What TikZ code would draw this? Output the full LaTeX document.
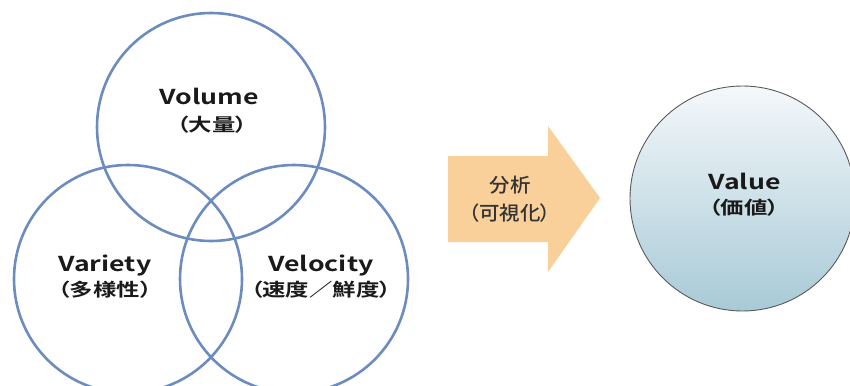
\documentclass[tikz,border=0pt]{standalone}
\usepackage{fontspec}
\usepackage{graphicx}
\setmainfont{Noto Sans CJK JP}
\newfontfamily\latb{Noto Sans CJK JP Bold}
\newfontfamily\jpb{Noto Sans CJK JP Bold}[RawFeature=+palt]
\newfontfamily\jpm{Noto Sans CJK JP Medium}[RawFeature=+palt]
\definecolor{ringblue}{HTML}{6C8CBF}
\definecolor{arroworange}{HTML}{F9CF9A}
\definecolor{valtop}{HTML}{F4F8FA}
\definecolor{valbot}{HTML}{A8CAD7}
\definecolor{txt}{HTML}{1A1A1A}
\definecolor{arrtxt}{HTML}{333333}
\newcommand{\hs}[1]{\scalebox{1.3}[1]{#1}}
\newcommand{\hsa}[1]{\scalebox{1.05}[1]{#1}}
\tikzset{
  ring/.style={circle, draw=ringblue, line width=2.6pt, minimum size=228pt, inner sep=0pt},
  entitle/.style={text=txt, inner sep=0pt, anchor=base, font=\latb\fontsize{20.5}{24}\selectfont},
  jptitle/.style={text=txt, inner sep=0pt, font=\jpb\fontsize{18}{22}\selectfont},
  arrlbl/.style={text=arrtxt, inner sep=0pt, font=\jpm\fontsize{19.5}{23}\selectfont}
}
\begin{document}
\begin{tikzpicture}[x=1pt,y=-1pt]
\useasboundingbox (0,0) rectangle (850,385);
\begin{scope}
\clip (0,0) rectangle (850,385);
\node[ring] (vol) at (211,127) {};
\node[ring] (var) at (128,279) {};
\node[ring] (vel) at (294,279) {};
\node[circle, draw=black!65, line width=0.9pt, minimum size=225pt, inner sep=0pt,
      top color=valtop, bottom color=valbot] (val) at (742.5,198.5) {};
\end{scope}
\node[entitle] (tvol) at (209,104) {\hs{Volume}};
\node[jptitle] (jvol) at (212,124.5) {\hs{（大量）}};
\node[entitle] (tvar) at (105,271) {\hs{Variety}};
\node[jptitle] (jvar) at (105,290) {\hs{（多様性）}};
\node[entitle] (tvel) at (321,271) {\hs{Velocity}};
\node[jptitle] (jvel) at (321,290) {\hs{（速度／鮮度）}};
\node[entitle] (tval) at (744.5,189) {\hs{Value}};
\node[jptitle] (jval) at (744,208) {\hs{（価値）}};
\fill[arroworange] (448,156) -- (548,156) -- (548,126) -- (600,198) -- (548,272) -- (548,242) -- (448,242) -- cycle;
\node[arrlbl] (tarr) at (510,185) {\hsa{分析}};
\node[arrlbl] (jarr) at (510,213) {\hsa{（可視化）}};
\end{tikzpicture}
\end{document}
